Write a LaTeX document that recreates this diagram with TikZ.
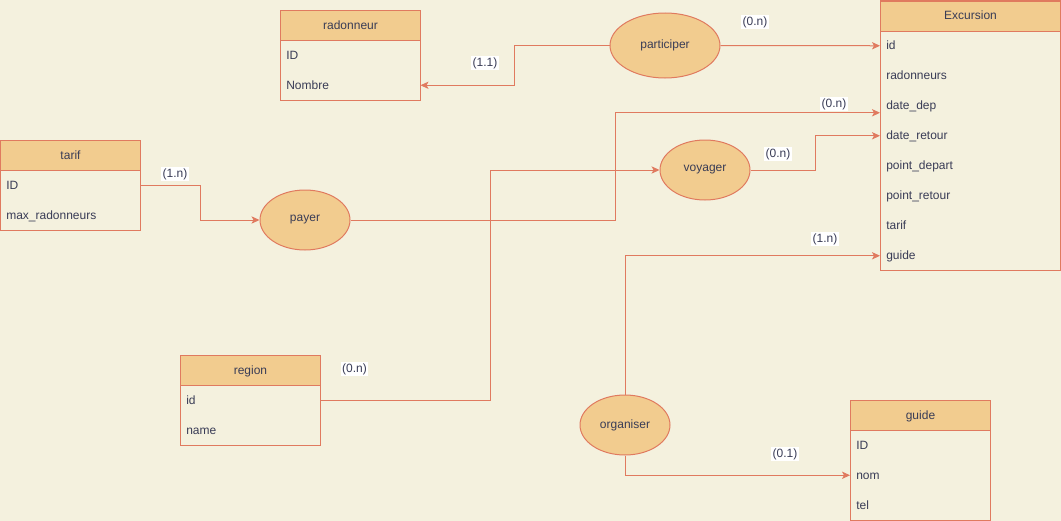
\documentclass[tikz,border=0pt]{standalone}
\usepackage{fontspec}
\setmainfont{Liberation Sans}
\usetikzlibrary{arrows.meta,calc,shapes.geometric}
\definecolor{bg}{HTML}{F4F1DE}
\definecolor{hd}{HTML}{F2CC8F}
\definecolor{ln}{HTML}{E07A5F}
\definecolor{tx}{HTML}{393C56}
\tikzset{
  hdr/.style={draw=ln, fill=hd, line width=0.75pt, minimum height=22.5pt, inner sep=0pt, text=tx, text height=7.5pt, text depth=1.5pt},
  rowst/.style={minimum height=22.5pt, inner xsep=4.5pt, inner ysep=0pt, text=tx, align=left, text height=7.5pt, text depth=1.5pt},
  box/.style={draw=ln, line width=0.75pt},
  rel/.style={ellipse, draw=ln, fill=hd, line width=0.75pt, inner sep=0pt, text=tx},
  conn/.style={draw=ln, line width=0.75pt, -{Stealth[length=6pt,width=5.5pt,inset=1.5pt]}},
  lbl/.style={fill=white, inner sep=1pt, text=tx}
}
\newcommand\ertable[6]{%
  \pgfmathsetmacro\erW{#4*0.75}%
  \pgfmathsetmacro\erT{(#4-12)*0.75}%
  \node[hdr, minimum width=\erW pt, anchor=north west] (#1) at (#2,#3) {#5};
  \foreach \r [count=\i] in {#6} {
    \node[rowst, text width=\erT pt, anchor=north west] (#1-\i) at (#2,#3+\i*30) {\r};
    \xdef\erN{\i}
  }
  \draw[box] (#2,#3) rectangle (#2+#4,#3+30+\erN*30);
}
\begin{document}
\begin{tikzpicture}[x=0.75pt,y=-0.75pt,font=\fontsize{9}{11}\selectfont]
\useasboundingbox (0,0) rectangle (1061,521);
\fill[bg] (0,0) rectangle (1061,521);

\ertable{rad}{280}{10}{140}{radonneur}{ID,Nombre}
\ertable{tarif}{0}{140}{140}{tarif}{ID,max\_radonneurs}
\ertable{exc}{880}{0.5}{180}{Excursion}{id,radonneurs,date\_dep,date\_retour,point\_depart,point\_retour,tarif,guide}
\ertable{region}{180}{355}{140}{region}{id,name}
\ertable{guide}{850}{400}{140}{guide}{ID,nom,tel}

\node[rel, minimum width=82.5pt, minimum height=48.75pt] (participer) at (665,45.5) {participer};
\node[rel, minimum width=67.5pt, minimum height=45pt] (payer) at (305,220) {payer};
\node[rel, minimum width=67.5pt, minimum height=45pt] (voyager) at (705,170) {voyager};
\node[rel, minimum width=67.5pt, minimum height=45pt] (organiser) at (625,425) {organiser};

\coordinate (depin) at ($(exc-3.west)+(0,7)$);

\draw[conn] (participer.west) -- ++(-95,0) |- (rad-2.east);
\draw[conn] (participer.east) -- (exc-1.west);
\draw[conn] (tarif-1.east) -- ++(60,0) |- (payer.west);
\draw[conn] (payer.east) -- ++(265,0) |- (depin);
\draw[conn] (region-1.east) -- ++(170,0) |- (voyager.west);
\draw[conn] (voyager.east) -- ++(65,0) |- (exc-4.west);
\draw[conn] (organiser.north) |- (exc-8.west);
\draw[conn] (organiser.south) |- (guide-2.west);

\node[lbl] (l1) at (485,63) {(1.1)};
\node[lbl] (l2) at (755,22) {(0.n)};
\node[lbl] (l3) at (175,174) {(1.n)};
\node[lbl] (l4) at (834,104) {(0.n)};
\node[lbl] (l5) at (778,154) {(0.n)};
\node[lbl] (l6) at (825,239) {(1.n)};
\node[lbl] (l7) at (354.5,369) {(0.n)};
\node[lbl] (l8) at (785,454) {(0.1)};
\end{tikzpicture}
\end{document}
